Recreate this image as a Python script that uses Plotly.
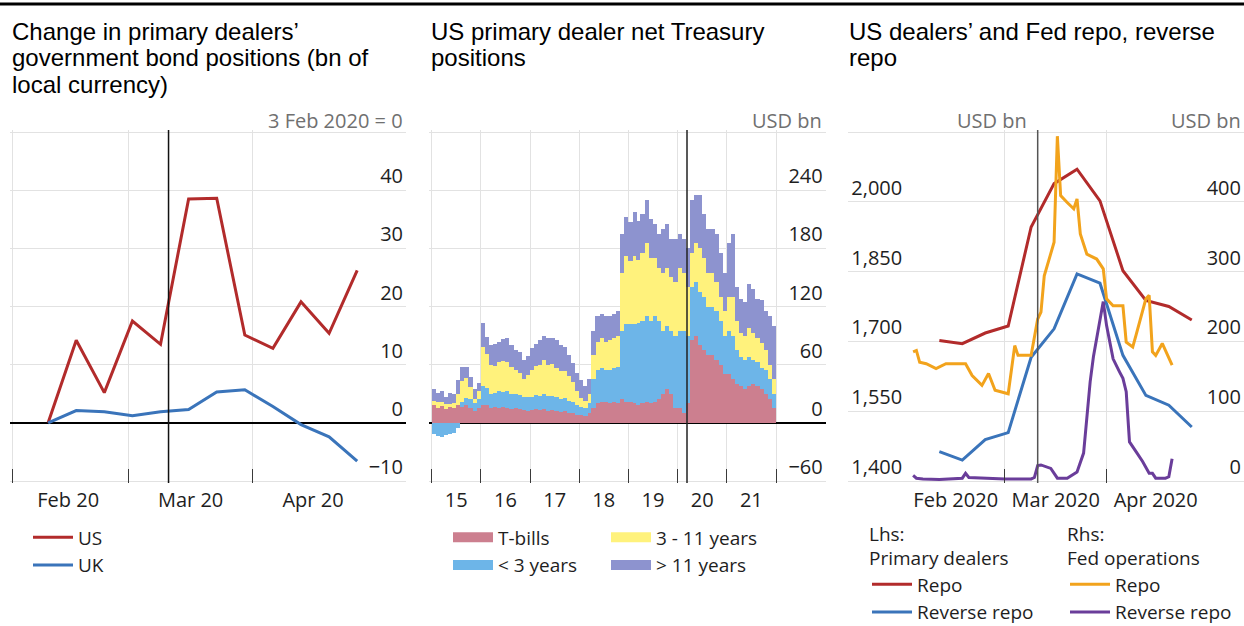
import plotly.graph_objects as go
import pandas as pd

W, H = 1244, 626

# ---------------- Panel 1: change in dealers' positions ----------------
p1_dates = ["2020-02-10", "2020-02-17", "2020-02-24", "2020-03-02", "2020-03-09", "2020-03-16",
            "2020-03-23", "2020-03-30", "2020-04-06", "2020-04-13", "2020-04-20", "2020-04-27"]
p1_us = [0, 14.2, 5.2, 17.5, 13.5, 38.5, 38.6, 15.1, 12.8, 20.8, 15.4, 26.2]
p1_uk = [0, 2.1, 1.9, 1.2, 1.9, 2.3, 5.3, 5.7, 2.8, -0.3, -2.4, -6.6]
p1_bounds = ["2020-02-01", "2020-03-01", "2020-04-01"]
p1_label_pos = ["2020-02-15", "2020-03-16 12:00", "2020-04-16"]
p1_labels = ["Feb 20", "Mar 20", "Apr 20"]
p1_yvals = [-10, 0, 10, 20, 30, 40, 50]
p1_ytext = ["\u221210", "0", "10", "20", "30", "40", ""]

# ---------------- Panel 2: net Treasury positions (monthly) ----------------
p2_months = pd.date_range("2015-01-01", periods=84, freq="MS") + pd.Timedelta(days=15)
tbills = [18, 15, 17, 14, 16, 15, 18, 16, 18, 15, 12, 15,
          18, 18, 15, 16, 15, 16, 15, 14, 15, 14, 13, 12,
          13, 14, 13, 14, 12, 13, 12, 11, 12, 10, 10, 8,
          8, 7, 10, 15, 20, 22, 22, 20, 22, 20, 25, 22,
          22, 20, 18, 20, 22, 20, 22, 25, 30, 35, 30, 15,
          15, 10, 20, 85, 90, 80, 75, 70, 70, 65, 60, 50,
          50, 45, 40, 38, 35, 38, 40, 38, 35, 30, 25, 15]
lt3 = [-12, -14, -15, -13, -12, -10, -5, 5, 8, 10, 8, 10,
       20, 18, 15, 15, 18, 16, 18, 16, 15, 15, 14, 15,
       14, 15, 15, 16, 16, 15, 15, 14, 14, 13, 12, 10,
       8, 8, 10, 30, 35, 35, 33, 35, 35, 38, 70, 80,
       80, 82, 85, 85, 88, 85, 88, 80, 65, 65, 65, 75,
       80, 85, 70, 55, 55, 55, 55, 50, 50, 50, 45, 40,
       45, 45, 35, 30, 30, 30, 25, 25, 22, 25, 20, 15]
y3_11 = [5, 6, 4, 5, 3, 5, 12, 22, 20, 12, 5, 8,
         40, 35, 30, 28, 30, 32, 30, 28, 25, 22, 18, 22,
         28, 30, 32, 35, 32, 33, 30, 28, 27, 25, 20, 15,
         10, 8, 10, 25, 28, 30, 28, 30, 30, 32, 60, 70,
         65, 70, 65, 70, 75, 65, 60, 55, 60, 60, 55, 55,
         65, 60, 50, 35, 40, 45, 40, 35, 35, 30, 25, 25,
         35, 40, 30, 25, 25, 30, 28, 25, 25, 20, 15, 15]
gt11 = [12, 10, 12, 8, 12, 10, 14, 15, 12, 10, 10, 8,
        25, 18, 20, 22, 20, 22, 25, 22, 20, 22, 20, 20,
        22, 22, 25, 25, 28, 27, 28, 27, 25, 22, 20, 18,
        18, 15, 15, 25, 27, 25, 27, 25, 25, 25, 40, 40,
        40, 45, 40, 40, 45, 40, 35, 35, 45, 45, 40, 45,
        35, 35, 40, 55, 50, 55, 45, 45, 45, 50, 45, 40,
        55, 65, 35, 35, 35, 45, 45, 40, 45, 40, 50, 55]
p2_bounds = [f"{y}-01-01" for y in range(2015, 2023)]
p2_label_pos = [f"{y}-07-02" for y in range(2015, 2022)]
p2_labels = ["15", "16", "17", "18", "19", "20", "21"]
p2_yvals = [-60, 0, 60, 120, 180, 240, 300]
p2_ytext = ["\u221260", "0", "60", "120", "180", "240", ""]

# ---------------- Panel 3: dealers' and Fed repo ----------------
p3_dates = p1_dates
dealer_repo = [1702, 1695, 1718, 1733, 1946, 2039, 2070, 2002, 1852, 1788, 1775, 1746]
dealer_rrp = [1463, 1445, 1489, 1504, 1666, 1727, 1845, 1825, 1670, 1584, 1563, 1516]
fed_repo_dates = ["2020-02-02", "2020-02-03", "2020-02-04", "2020-02-06", "2020-02-09", "2020-02-12",
                  "2020-02-15", "2020-02-18", "2020-02-20", "2020-02-23", "2020-02-25", "2020-02-27",
                  "2020-03-02", "2020-03-04", "2020-03-05", "2020-03-09", "2020-03-11", "2020-03-12",
                  "2020-03-13", "2020-03-16", "2020-03-17", "2020-03-18", "2020-03-20", "2020-03-22",
                  "2020-03-23", "2020-03-24", "2020-03-26", "2020-03-29", "2020-03-31", "2020-04-01",
                  "2020-04-03", "2020-04-06", "2020-04-07", "2020-04-09", "2020-04-10", "2020-04-13",
                  "2020-04-14", "2020-04-15", "2020-04-16", "2020-04-18", "2020-04-21"]
fed_repo = [185, 187, 170, 168, 161, 168, 168, 168, 151, 137, 154, 130, 125, 194, 180, 180, 232, 242,
            294, 342, 494, 409, 399, 390, 404, 354, 325, 318, 304, 261, 251, 251, 199, 192, 209, 261,
            266, 185, 180, 197, 166]
fed_rrp_dates = ["2020-02-02", "2020-02-03", "2020-02-05", "2020-02-10", "2020-02-17", "2020-02-18",
                 "2020-02-19", "2020-02-24", "2020-03-01", "2020-03-09", "2020-03-10", "2020-03-11",
                 "2020-03-12", "2020-03-15", "2020-03-17", "2020-03-20", "2020-03-23", "2020-03-25",
                 "2020-03-27", "2020-03-28", "2020-03-30", "2020-03-31", "2020-04-01", "2020-04-02",
                 "2020-04-03", "2020-04-05", "2020-04-06", "2020-04-07", "2020-04-08", "2020-04-10",
                 "2020-04-12", "2020-04-14", "2020-04-15", "2020-04-16", "2020-04-19", "2020-04-20",
                 "2020-04-21"]
fed_rrp = [8, 4, 3, 2, 4, 11, 5, 4, 3, 3, 5, 22, 23, 18, 4, 4, 13, 40, 142, 178, 232, 257, 223, 199,
           175, 156, 147, 128, 56, 42, 28, 11, 11, 4, 4, 6, 32]
p3_bounds = ["2020-03-01", "2020-04-01"]
p3_label_pos = ["2020-02-15", "2020-03-16 12:00", "2020-04-16"]
p3_labels = ["Feb 2020", "Mar 2020", "Apr 2020"]
p3_lvals = [1400, 1550, 1700, 1850, 2000, 2150]
p3_ltext = ["1,400", "1,550", "1,700", "1,850", "2,000", ""]
p3_rvals = [0, 100, 200, 300, 400, 500]
p3_rtext = ["0", "100", "200", "300", "400", ""]

event_date = "2020-03-11"

titles = [
    ["Change in primary dealers\u2019", "government bond positions (bn of", "local currency)"],
    ["US primary dealer net Treasury", "positions"],
    ["US dealers\u2019 and Fed repo, reverse", "repo"],
]

# ---------------- styling ----------------
RED = "#B22B2B"
BLUE = "#3A74BA"
ORANGE = "#F2A31C"
PURPLE = "#6A3D9A"
C_TB = "#CC7F8F"
C_LT3 = "#6DB5E8"
C_MID = "#FFF27C"
C_GT11 = "#8D93CF"
GRID = "#E2E2E2"
TXT = "#1E1E1E"
GREY = "#707070"
TICKF = dict(family="Open Sans", size=20, color=TXT)
LEGF = dict(family="Open Sans", size=19, color=TXT)


def px(v):
    return v / W


def py(v):
    return 1 - v / H


PAD = 2  # px of padding so that edge gridlines are drawn
TOP, BOT = 132, 481
YDOM = [py(BOT + PAD), py(TOP - PAD)]


def padded(lo, hi):
    s = (hi - lo) / (BOT - TOP)
    return [lo - PAD * s, hi + PAD * s]


fig = go.Figure()

# Panel 1
fig.add_trace(go.Scatter(x=p1_dates, y=p1_us, name="US", mode="lines",
                         line=dict(color=RED, width=3), xaxis="x", yaxis="y", legend="legend"))
fig.add_trace(go.Scatter(x=p1_dates, y=p1_uk, name="UK", mode="lines",
                         line=dict(color=BLUE, width=3), xaxis="x", yaxis="y", legend="legend"))

# Panel 2 (bars, plus legend-only swatches shaped like the original's rectangles)
p2_series = [("T-bills", tbills, C_TB, "legend2", 1),
             ("< 3 years", lt3, C_LT3, "legend2", 2),
             ("3 - 11 years", y3_11, C_MID, "legend3", 1),
             ("> 11 years", gt11, C_GT11, "legend3", 2)]
for name, vals, col, leg, rank in p2_series:
    fig.add_trace(go.Bar(x=p2_months, y=vals, name=name, marker=dict(color=col, line=dict(width=0)),
                         width=31 * 86400000, xaxis="x2", yaxis="y2", showlegend=False))
for name, vals, col, leg, rank in p2_series:
    fig.add_trace(go.Scatter(x=[None], y=[None], name=name, mode="lines",
                             line=dict(color=col, width=15), xaxis="x2", yaxis="y2",
                             legend=leg, legendrank=rank, hoverinfo="skip"))

# Panel 3
fig.add_trace(go.Scatter(x=p3_dates, y=dealer_repo, name="Repo", mode="lines",
                         line=dict(color=RED, width=3), xaxis="x3", yaxis="y3", legend="legend4"))
fig.add_trace(go.Scatter(x=p3_dates, y=dealer_rrp, name="Reverse repo", mode="lines",
                         line=dict(color=BLUE, width=3), xaxis="x3", yaxis="y3", legend="legend4"))
fig.add_trace(go.Scatter(x=fed_repo_dates, y=fed_repo, name="Repo", mode="lines",
                         line=dict(color=ORANGE, width=3), xaxis="x3", yaxis="y4", legend="legend5"))
fig.add_trace(go.Scatter(x=fed_rrp_dates, y=fed_rrp, name="Reverse repo", mode="lines",
                         line=dict(color=PURPLE, width=3), xaxis="x3", yaxis="y4", legend="legend5"))


def xaxis(domain, rng, label_pos, labels, bounds, anchor):
    return dict(domain=domain, type="date", range=rng, anchor=anchor,
                tickmode="array", tickvals=label_pos, ticktext=labels, ticks="",
                showgrid=False, zeroline=False, showline=False, tickfont=TICKF,
                ticklabelstandoff=3, fixedrange=True,
                minor=dict(tickmode="array", tickvals=bounds, ticks="inside", ticklen=14,
                           tickcolor="#3a3a3a", tickwidth=1.3, showgrid=True,
                           gridcolor=GRID, gridwidth=1))


def yaxis(lo, hi, vals, text, side, anchor, zero=True, grid=True, overlaying=None):
    d = dict(domain=YDOM, range=padded(lo, hi), anchor=anchor, side=side, tickmode="array",
             tickvals=vals, ticktext=text, ticks="", ticklabelposition="inside top",
             tickfont=TICKF, showgrid=grid, gridcolor=GRID, gridwidth=1,
             zeroline=zero, zerolinecolor="#000000", zerolinewidth=1.5,
             showline=False, fixedrange=True)
    if overlaying:
        d["overlaying"] = overlaying
    return d


fig.update_layout(
    width=W, height=H, margin=dict(l=0, r=0, t=0, b=0, autoexpand=False),
    paper_bgcolor="white", plot_bgcolor="white",
    barmode="relative", bargap=0,
    font=dict(family="Open Sans", size=20, color=TXT),
    xaxis=xaxis([px(10), px(406)], ["2020-01-31 12:00", "2020-05-09 03:50"],
                p1_label_pos, p1_labels, p1_bounds, "y"),
    yaxis=yaxis(-10, 50, p1_yvals, p1_ytext, "right", "x"),
    xaxis2=xaxis([px(429), px(825.7)], ["2014-12-12", "2023-01-05"],
                 p2_label_pos, p2_labels, p2_bounds, "y2"),
    yaxis2=yaxis(-60, 300, p2_yvals, p2_ytext, "right", "x2"),
    xaxis3=xaxis([px(848.3), 1.0], ["2020-01-13 05:30", "2020-05-12 22:20"],
                 p3_label_pos, p3_labels, p3_bounds, "y3"),
    yaxis3=yaxis(1400, 2150, p3_lvals, p3_ltext, "left", "x3", zero=False),
    yaxis4=yaxis(0, 500, p3_rvals, p3_rtext, "right", "x3", zero=False, grid=False,
                 overlaying="y3"),
    showlegend=True,
)

leg_common = dict(font=LEGF, bgcolor="rgba(0,0,0,0)", xanchor="left", yanchor="top",
                  orientation="v", tracegroupgap=0, itemwidth=40,
                  itemclick=False, itemdoubleclick=False)
fig.update_layout(
    legend=dict(x=px(28), y=py(518.5), **leg_common),
    legend2=dict(x=px(448), y=py(518.5), **leg_common),
    legend3=dict(x=px(606), y=py(518.5), **leg_common),
    legend4=dict(x=px(867), y=py(516), title=dict(text="Lhs:<br>Primary dealers", font=LEGF, side="top"),
                 **leg_common),
    legend5=dict(x=px(1065), y=py(516), title=dict(text="Rhs:<br>Fed operations", font=LEGF, side="top"),
                 **leg_common),
)

# event lines (11 March 2020) and top rule
for xr, yr, col in [("x", "y domain", "#111111"), ("x2", "y2 domain", "#222222"), ("x3", "y3 domain", "#555555")]:
    fig.add_shape(type="line", xref=xr, yref=yr, x0=event_date, x1=event_date, y0=0, y1=1,
                  line=dict(color=col, width=1.5), layer="above")
fig.add_shape(type="line", xref="paper", yref="paper", x0=0, x1=1, y0=py(4), y1=py(4),
              line=dict(color="#000000", width=3))

# titles (one annotation per line for tight leading)
TITLEF = dict(family="Liberation Sans", size=24, color="#000000")
for xpos, lines in zip([10, 429, 847], titles):
    for i, line in enumerate(lines):
        fig.add_annotation(x=px(xpos), y=py(31 + 27 * i), xref="paper", yref="paper", text=line,
                           showarrow=False, xanchor="left", yanchor="middle", align="left",
                           font=TITLEF)

# unit labels
UNITF = dict(family="Open Sans", size=20, color=GREY)
for xpos, anchor, text in [(405, "right", "3 Feb 2020 = 0"), (824, "right", "USD bn"),
                           (992, "center", "USD bn"), (1243, "right", "USD bn")]:
    fig.add_annotation(x=px(xpos), y=py(120), xref="paper", yref="paper", text=text, showarrow=False,
                       xanchor=anchor, yanchor="middle", font=UNITF)

fig.write_html("out.html", config={"displayModeBar": False},
               post_script="document.body.style.margin='0';")
